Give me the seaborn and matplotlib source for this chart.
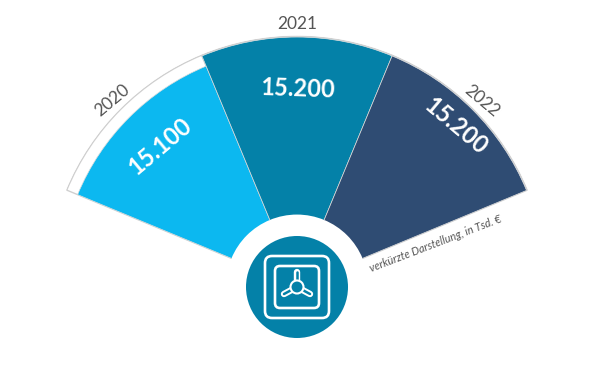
#!/usr/bin/env python3
"""
Fan chart of three yearly values on a truncated radial scale
"""

import numpy as np
import pandas as pd
import matplotlib
matplotlib.use("Agg")
import matplotlib.pyplot as plt
from matplotlib.patches import Circle, FancyBboxPatch
import seaborn as sns

years = ["2020", "2021", "2022"]
values = [15100, 15200, 15200]
value_labels = ["15.100", "15.200", "15.200"]
outline_values = [15207, 15207, 15207]
mid_angles = [135, 90, 45]
colors = ["#0CB8F0", "#0481A8", "#2F4C73"]
note = "verkürzte Darstellung, in Tsd. €"

sns.set_theme(style="white")
plt.rcParams['font.family'] = ['Lato', 'DejaVu Sans']

W, H = 594, 380
CX, CY, R = 297, 285.5, 250
R_ORIGIN, R_MIN, R_MAX = 12941, 13586, 15214

fig = plt.figure(figsize=(W / 100, H / 100), dpi=100)
ax = fig.add_axes([(CX - R) / W, (H - CY - R) / H, 2 * R / W, 2 * R / H], projection="polar")
ax.patch.set_alpha(0)

df = pd.DataFrame({
    "theta": np.deg2rad(mid_angles),
    "value": values,
    "outline": outline_values,
    "year": years,
})

# grey outline behind the bars, then the bars themselves
sns.barplot(data=df, x="theta", y="outline", native_scale=True, color="white",
            edgecolor="#cfcfcf", linewidth=1.0, width=1, ax=ax)
sns.barplot(data=df, x="theta", y="value", hue="year", palette=dict(zip(years, colors)),
            native_scale=True, dodge=False, legend=False, edgecolor="#dcdcdc",
            linewidth=0.5, width=1, saturation=1, ax=ax)

# truncated scale: the hole in the middle comes from the radial origin
ax.set_xlim(0, 2 * np.pi)
ax.set_rorigin(R_ORIGIN)
ax.set_ylim(R_MIN, R_MAX)
ax.grid(False)
ax.set_xticks([])
ax.set_yticks([])
ax.set_xlabel("")
ax.set_ylabel("")
ax.spines["polar"].set_visible(False)
ax.spines["inner"].set_edgecolor("none")

# bars start at r=0 which lies below the origin, move their foot just inside the hole
for bar in ax.patches:
    top = bar.get_height()
    bar.set_y(R_MIN - 100)
    bar.set_height(top - (R_MIN - 100))

# overlay in pixel coordinates for the labels and the icon
ov = fig.add_axes([0, 0, 1, 1], zorder=5)
ov.set_xlim(0, W)
ov.set_ylim(H, 0)
ov.axis("off")
ov.patch.set_alpha(0)

year_style = dict(ha="center", va="center", fontsize=12.5, color="#555555", rotation_mode="anchor")
ov.text(112, 100, years[0], rotation=40, **year_style)
ov.text(297, 24, years[1], rotation=0, **year_style)
ov.text(482, 101, years[2], rotation=-40, **year_style)

value_style = dict(ha="center", va="center", fontsize=17, fontweight="bold", color="white", rotation_mode="anchor")
ov.text(160, 146, value_labels[0], rotation=40, **value_style)
ov.text(298, 89, value_labels[1], rotation=-2, **value_style)
ov.text(456, 126, value_labels[2], rotation=-40, **value_style)

ov.text(436, 244, note, rotation=21, ha="center", va="center", fontsize=7.8, style="italic", color="#555555", rotation_mode="anchor")

# safe icon
ov.add_patch(Circle((297, 287), 51, fc=colors[1], ec="none"))
ov.add_patch(FancyBboxPatch((270, 261), 54, 52, boxstyle="round,pad=5,rounding_size=7", fc="none", ec="white", lw=1.9))
ov.add_patch(FancyBboxPatch((279, 270), 36, 34, boxstyle="round,pad=4,rounding_size=5", fc="none", ec="white", lw=1.9))
for ex, ey in [(297, 272), (284, 294), (310, 294)]:
    ov.plot([297, ex], [287, ey], color="white", lw=4.6, solid_capstyle="round")
    ov.plot([297, ex], [287, ey], color=colors[1], lw=1.8, solid_capstyle="round")
ov.add_patch(Circle((297, 287), 6.5, fc=colors[1], ec="white", lw=1.5, zorder=4))

fig.savefig("out.png", dpi=100)
